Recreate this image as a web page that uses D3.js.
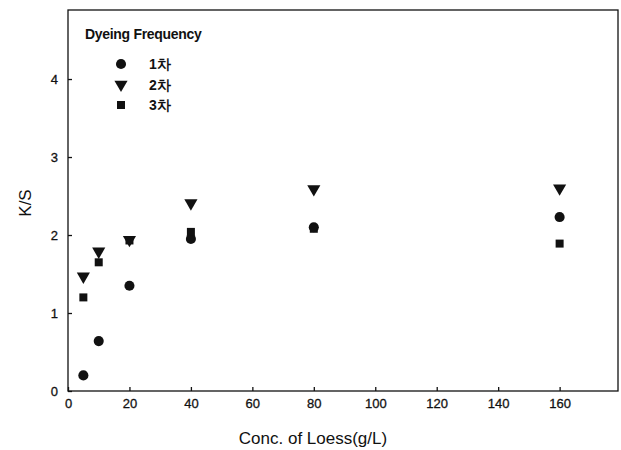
<!DOCTYPE html>
<html>
<head>
<meta charset="utf-8">
<script src="https://cdn.jsdelivr.net/npm/d3@7"></script>
<style>
  body { margin: 0; background: #fff; }
  text { font-family: "Liberation Sans", Arial, sans-serif; fill: #111; }
</style>
</head>
<body>
<div id="chart"></div>
<script>
// concentrations of loess (g/L)
var concs = [5, 10, 20, 40, 80, 160];
// K/S per dyeing frequency
var freq1 = [0.2, 0.64, 1.35, 1.95, 2.1, 2.23];
var freq2 = [1.47, 1.79, 1.94, 2.41, 2.59, 2.6];
var freq3 = [1.2, 1.65, 1.93, 2.04, 2.08, 1.89];
var seriesNames = ["1차", "2차", "3차"];
var xTicks = [0, 20, 40, 60, 80, 100, 120, 140, 160];
var yTicks = [0, 1, 2, 3, 4];

var w = 621, h = 450;
var plotL = 68, plotR = 618, plotT = 10, plotB = 391;

var svg = d3.select("#chart").append("svg")
    .attr("width", w)
    .attr("height", h);

var x = d3.scaleLinear().domain([0, 179]).range([plotL, plotR]);
var y = d3.scaleLinear().domain([0, 4.885]).range([plotB, plotT]);

// frame
svg.append("rect")
    .attr("x", plotL).attr("y", plotT)
    .attr("width", plotR - plotL).attr("height", plotB - plotT)
    .attr("fill", "none").attr("stroke", "#111").attr("stroke-width", 1.3);

var xAxis = svg.append("g")
    .attr("transform", "translate(0," + plotB + ")")
    .call(d3.axisBottom(x).tickValues(xTicks).tickSizeInner(-4).tickSizeOuter(0).tickPadding(8));
var yAxis = svg.append("g")
    .attr("transform", "translate(" + plotL + ",0)")
    .call(d3.axisLeft(y).tickValues(yTicks).tickFormat(d3.format("d"))
        .tickSizeInner(-4).tickSizeOuter(0).tickPadding(10));

[xAxis, yAxis].forEach(function (g) {
    g.select(".domain").remove();
    g.selectAll(".tick line").attr("stroke", "#111").attr("stroke-width", 1.3);
    g.selectAll(".tick text").attr("font-size", 13).attr("fill", "#111")
        .attr("stroke", "#111").attr("stroke-width", 0.3)
        .attr("font-family", "'Liberation Sans', Arial, sans-serif");
});

// axis titles
svg.append("text")
    .attr("x", 313).attr("y", 444)
    .attr("text-anchor", "middle")
    .attr("font-size", 17)
    .text("Conc. of Loess(g/L)");

svg.append("text")
    .attr("transform", "translate(31,203) rotate(-90)")
    .attr("text-anchor", "middle")
    .attr("font-size", 17)
    .text("K/S");

var shapes = [d3.symbolCircle, d3.symbolTriangle, d3.symbolSquare];
var sizes = [80, 75, 64];
var all = [freq1, freq2, freq3];

function marker(i) {
    var p = d3.symbol().type(shapes[i]).size(sizes[i]);
    return p();
}

all.forEach(function (vals, i) {
    svg.append("g").selectAll("path")
        .data(vals)
        .enter().append("path")
        .attr("d", marker(i))
        .attr("fill", "#111")
        .attr("transform", function (d, j) {
            var rot = i === 1 ? " rotate(180)" : "";
            return "translate(" + x(concs[j]) + "," + y(d) + ")" + rot;
        });
});

// legend
var leg = svg.append("g");
leg.append("text")
    .attr("x", 85).attr("y", 39)
    .attr("font-size", 14)
    .attr("font-weight", "bold")
    .attr("letter-spacing", -0.3)
    .text("Dyeing Frequency");

seriesNames.forEach(function (name, i) {
    var yy = 64 + i * 20.5;
    leg.append("path")
        .attr("d", marker(i))
        .attr("fill", "#111")
        .attr("transform", "translate(121," + yy + ")" + (i === 1 ? " rotate(180)" : ""));
    leg.append("text")
        .attr("x", 149).attr("y", yy + 5)
        .attr("font-size", 14)
        .attr("font-weight", "bold")
        .attr("font-family", "'Noto Sans CJK KR', 'Liberation Sans', sans-serif")
        .text(name);
});
</script>
</body>
</html>
